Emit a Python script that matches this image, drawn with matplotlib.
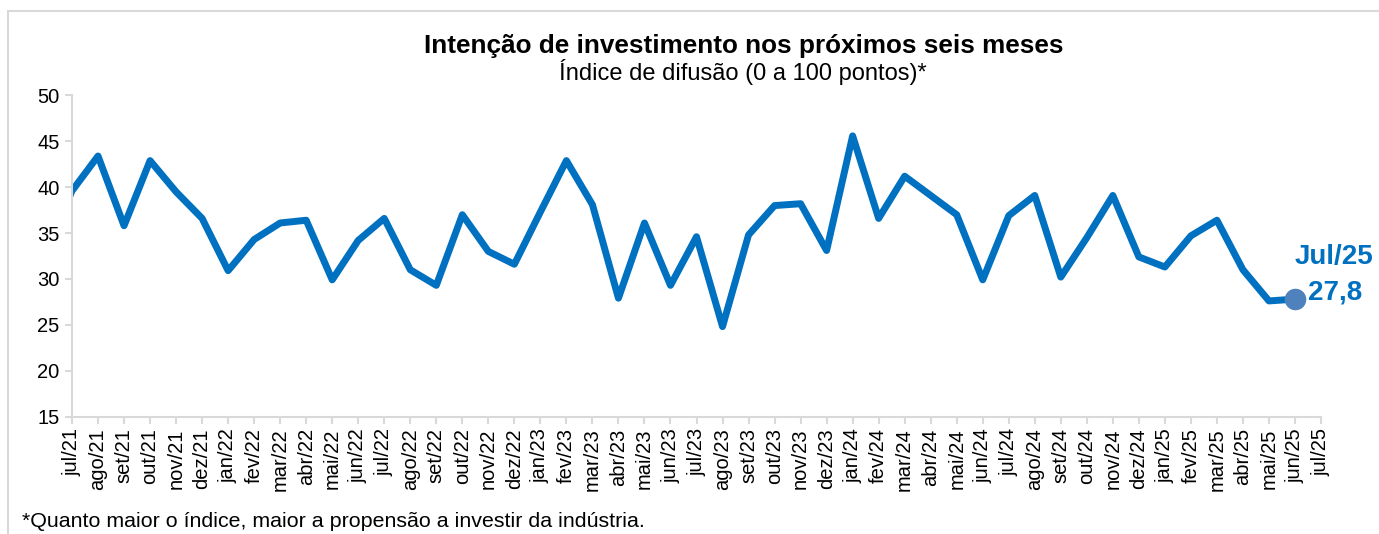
import numpy as np
import matplotlib

matplotlib.use("Agg")
import matplotlib.pyplot as plt
from matplotlib.patches import Rectangle

plt.rcParams["font.family"] = ["Liberation Sans", "DejaVu Sans"]

# category labels on the x axis
months = [
    "jul/21", "ago/21", "set/21", "out/21", "nov/21", "dez/21",
    "jan/22", "fev/22", "mar/22", "abr/22", "mai/22", "jun/22",
    "jul/22", "ago/22", "set/22", "out/22", "nov/22", "dez/22",
    "jan/23", "fev/23", "mar/23", "abr/23", "mai/23", "jun/23",
    "jul/23", "ago/23", "set/23", "out/23", "nov/23", "dez/23",
    "jan/24", "fev/24", "mar/24", "abr/24", "mai/24", "jun/24",
    "jul/24", "ago/24", "set/24", "out/24", "nov/24", "dez/24",
    "jan/25", "fev/25", "mar/25", "abr/25", "mai/25", "jun/25",
    "jul/25",
]

# index values; the first one sits just left of the axis and gets clipped
values = [
    33.0,
    39.6, 43.4, 35.8, 42.9, 39.5, 36.6,
    30.9, 34.3, 36.1, 36.4, 29.9, 34.2,
    36.6, 31.0, 29.3, 37.0, 33.0, 31.6,
    37.3, 42.9, 38.1, 27.9, 36.1, 29.3,
    34.6, 24.8, 34.8, 38.0, 38.2, 33.1,
    45.6, 36.6, 41.2, 39.1, 37.0, 29.9,
    36.9, 39.1, 30.2, 34.5, 39.1, 32.4,
    31.3, 34.7, 36.4, 31.0, 27.6, 27.8,
]
last_label = "Jul/25"

BLUE = "#0070C0"
GREY = "#D9D9D9"

fig = plt.figure(figsize=(13.79, 5.34), dpi=100)
# frame: only top and left edges fall inside the picture
fig.patches.append(Rectangle((8 / 1379, -0.1), 1.2, 1.1 - 11 / 534,
                             transform=fig.transFigure, fill=False,
                             edgecolor=GREY, lw=1.5))

ax = fig.add_axes([72 / 1379, 1 - 416.5 / 534, (1321 - 72) / 1379, (416.5 - 95.5) / 534])

x = np.arange(len(values)) - 1
ax.plot(x, values, color=BLUE, lw=5, solid_joinstyle="round", solid_capstyle="butt")
ax.plot(x[-1], values[-1], "o", color="#4F81BD", ms=14.5, zorder=3, clip_on=False)

ax.annotate(last_label, (x[-1], values[-1]), xytext=(-0.5, 30), textcoords="offset points",
            ha="left", va="center", fontsize=20, fontweight="bold", color=BLUE,
            annotation_clip=False)
ax.annotate(f"{values[-1]:.1f}".replace(".", ","), (x[-1], values[-1]),
            xytext=(9.5, 5), textcoords="offset points", ha="left", va="center",
            fontsize=20, fontweight="bold", color=BLUE, annotation_clip=False)

ax.set_xlim(0, len(months) - 1)
ax.set_ylim(15, 50)
ax.set_yticks(np.arange(15, 51, 5))
ax.set_xticks(np.arange(len(months)))
ax.set_xticklabels(months, rotation=90)

for s in ("top", "right"):
    ax.spines[s].set_visible(False)
for s in ("left", "bottom"):
    ax.spines[s].set_color(GREY)
    ax.spines[s].set_linewidth(1.5)
ax.tick_params(axis="both", colors=GREY, labelcolor="black", labelsize=14.5,
               length=5, width=1.5)
ax.tick_params(axis="y", pad=4)

fig.text(0.539, 0.913, "Intenção de investimento nos próximos seis meses",
         ha="center", va="center", fontsize=18.8, fontweight="bold")
fig.text(0.539, 0.865, "Índice de difusão (0 a 100 pontos)*",
         ha="center", va="center", fontsize=17)
fig.text(22 / 1379, 0.0225,
         "*Quanto maior o índice, maior a propensão a investir da indústria.",
         ha="left", va="center", fontsize=15.4)

fig.savefig("out.png", dpi=100)
